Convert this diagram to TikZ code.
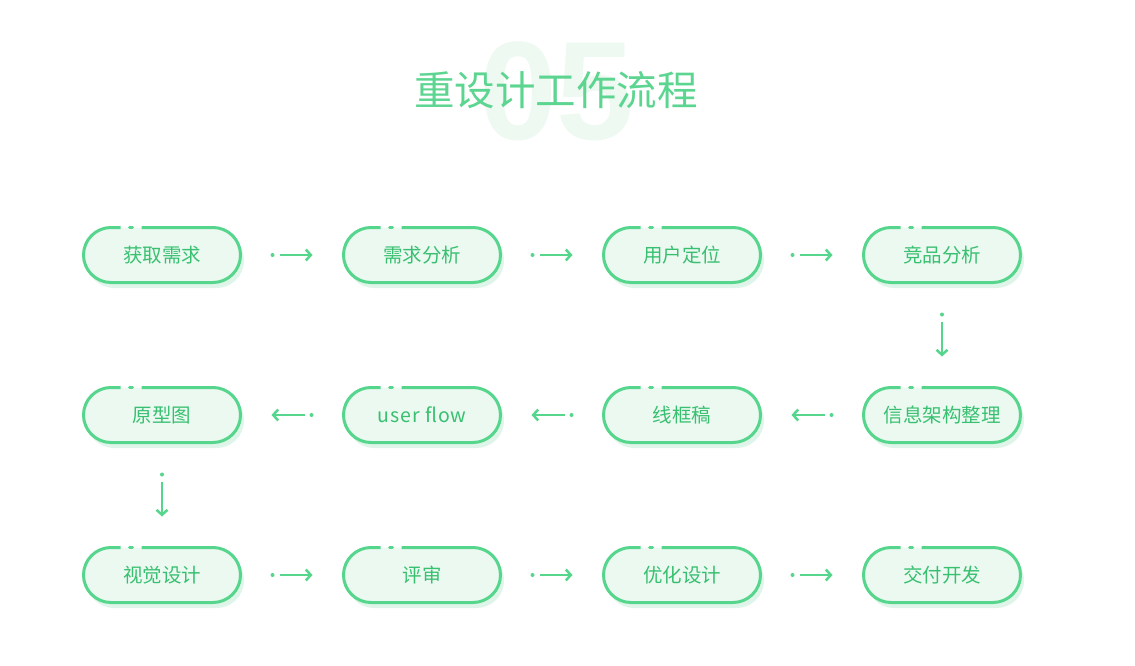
\documentclass[tikz,border=0pt]{standalone}
\usepackage{fontspec}
\newfontfamily\cjk{Noto Sans CJK SC}
\newfontfamily\numf{Liberation Sans}
\usetikzlibrary{arrows.meta,calc}
\definecolor{rimc}{HTML}{55D68C}
\definecolor{pilltext}{HTML}{38C070}
\definecolor{pillfill}{HTML}{EBF9F1}
\definecolor{shadowc}{HTML}{E0F5E9}
\definecolor{titlec}{HTML}{5BD590}
\definecolor{bigc}{HTML}{EEF9F2}
\tikzset{
  pillbox/.style={minimum width=157pt, minimum height=55pt, inner sep=0pt, outer sep=0pt,
    fill=pillfill, rounded corners=27.5pt, font=\cjk\fontsize{19.5}{19.5}\selectfont, text=pilltext},
  rim/.style={draw=rimc, line width=3pt, rounded corners=27.5pt},
  flow/.style={draw=rimc, line width=2.5pt, -{Straight Barb[length=5pt,width=11pt]},
    shorten <=39pt, shorten >=31pt},
  flowdot/.style={fill=rimc}
}
\newcommand\mkpill[3]{%
  \fill[shadowc, rounded corners=27.5pt] ($(#2)+(-75.5,-22.5)$) rectangle ($(#2)+(82,33)$);
  \node[pillbox] (#1) at (#2) {#3};
  \draw[rim] ($(#1.north west)+(58,0)$) -- (#1.north east) -- (#1.south east) -- (#1.south west) -- (#1.north west) -- ($(#1.north west)+(37,0)$);
  \draw[draw=rimc, line width=3pt, line cap=round] ($(#1.north west)+(46,0)$) -- ($(#1.north west)+(49,0)$);
}
\begin{document}
\begin{tikzpicture}[x=1pt,y=-1pt]
\useasboundingbox[fill=white] (0,0) rectangle (1135,666);
\node[font=\numf\bfseries\fontsize{140}{140}\selectfont, text=bigc] (num) at (557,91.5) {05};
\node[font=\cjk\fontsize{40.5}{40.5}\selectfont, text=titlec] (title) at (556,90) {重设计工作流程};
% row 1
\mkpill{p1}{162,255}{获取需求}
\mkpill{p2}{422,255}{需求分析}
\mkpill{p3}{682,255}{用户定位}
\mkpill{p4}{942,255}{竞品分析}
% row 2
\mkpill{p5}{942,415}{信息架构整理}
\mkpill{p6}{682,415}{线框稿}
\mkpill{p7}{422,415}{\addfontfeatures{LetterSpace=5}user flow}
\mkpill{p8}{162,415}{原型图}
% row 3
\mkpill{p9}{162,575}{视觉设计}
\mkpill{p10}{422,575}{评审}
\mkpill{p11}{682,575}{优化设计}
\mkpill{p12}{942,575}{交付开发}
% connectors
\foreach \a/\b in {p1/p2,p2/p3,p3/p4,p9/p10,p10/p11,p11/p12}{
  \draw[flow] (\a.east) -- (\b.west);
  \fill[flowdot] ($(\a.east)+(32,0)$) circle (2pt);
}
\foreach \a/\b in {p5/p6,p6/p7,p7/p8}{
  \draw[flow] (\a.west) -- (\b.east);
  \fill[flowdot] ($(\a.west)+(-32,0)$) circle (2pt);
}
\foreach \a/\b in {p4/p5,p8/p9}{
  \draw[flow] (\a.south) -- (\b.north);
  \fill[flowdot] ($(\a.south)+(0,32)$) circle (2pt);
}
\end{tikzpicture}
\end{document}
